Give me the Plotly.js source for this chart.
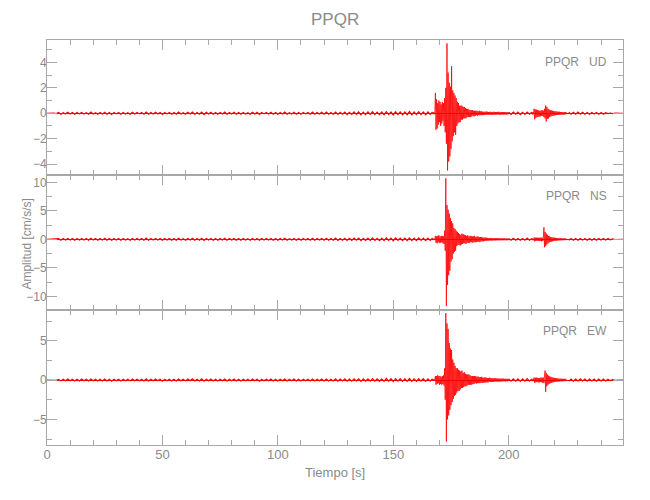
<!DOCTYPE html>
<html>
<head>
<meta charset="utf-8">
<script src="https://cdn.plot.ly/plotly-3.0.1.min.js"></script>
<style>html,body{margin:0;padding:0;background:#fff;}#chart{width:650px;height:500px;}</style>
</head>
<body>
<div id="chart"></div>
<script>
// ---- Data ----
// Each component is stored as five uniformly sampled segments (start time [s], step [s]).
const segStart = [0, 167, 200, 210, 226];
const segStep  = [1, 0.25, 1, 0.25, 1];
const components = ['UD', 'NS', 'EW'];
const stationName = 'PPQR';

// --- UD (cm/s/s) ---
const udA = [
 0, 0.01, -0.01, 0.01, -0.02, 0.06, -0.07, 0.05, -0.06, 0.08, -0.05, 0.07,
 -0.08, 0.06, -0.05, 0.07, -0.06, 0.05, -0.08, 0.09, -0.06, 0.05, -0.07, 0.06,
 -0.05, 0.08, -0.07, 0.06, -0.09, 0.07, -0.05, 0.06, -0.08, 0.07, -0.06, 0.05,
 -0.07, 0.08, -0.06, 0.07, -0.05, 0.06, -0.08, 0.1, -0.07, 0.06, -0.05, 0.08,
 -0.06, 0.07, -0.09, 0.06, -0.05, 0.07, -0.08, 0.06, -0.07, 0.09, -0.06, 0.05,
 -0.07, 0.08, -0.06, 0.1, -0.08, 0.06, -0.07, 0.09, -0.1, 0.07, -0.06, 0.08,
 -0.07, 0.06, -0.08, 0.07, -0.06, 0.09, -0.07, 0.06, -0.05, 0.08, -0.07, 0.06,
 -0.08, 0.07, -0.06, 0.05, -0.07, 0.08, -0.06, 0.07, -0.09, 0.06, -0.05, 0.07,
 -0.06, 0.08, -0.07, 0.06, -0.08, 0.07, -0.06, 0.09, -0.07, 0.05, -0.06, 0.08,
 -0.07, 0.06, -0.08, 0.07, -0.05, 0.06, -0.08, 0.09, -0.07, 0.06, -0.06, 0.08,
 -0.07, 0.09, -0.08, 0.06, -0.07, 0.1, -0.09, 0.07, -0.08, 0.09, -0.1, 0.08,
 -0.09, 0.11, -0.08, 0.1, -0.12, 0.09, -0.1, 0.11, -0.09, 0.12, -0.1, 0.09,
 -0.11, 0.1, -0.12, 0.13, -0.1, 0.11, -0.13, 0.12, -0.1, 0.11, -0.12, 0.1,
 -0.11, 0.13, -0.12, 0.1, -0.11, 0.12, -0.1, 0.11, -0.12, 0.1, -0.09, 0.11
];
const udB = [
 0.08, -0.07, 0.09, -0.08, 0.1, 1.6, -1.3, 1.1, -1.2, 0.8, -0.9, 1.0,
 -0.7, 0.9, -1.0, 0.7, -0.8, 0.9, -0.6, 0.8, -1.0, 1.2, -1.5, 2.0,
 -2.4, 5.5, -4.5, 3.2, -3.8, 2.4, -3.4, 2.1, -2.8, 3.7, -2.2, 1.8,
 -1.8, 1.6, -1.5, 1.4, -1.7, 1.2, -1.0, 0.9, -0.8, 0.8, -0.7, 0.6,
 -0.7, 0.6, -0.5, 0.6, -0.5, 0.5, -0.4, 0.5, -0.4, 0.4, -0.4, 0.35,
 -0.3, 0.35, -0.3, 0.3, -0.3, 0.25, -0.3, 0.25, -0.25, 0.25, -0.2, 0.2,
 -0.25, 0.2, -0.2, 0.2, -0.15, 0.2, -0.2, 0.15, -0.15, 0.2, -0.15, 0.15,
 -0.15, 0.15, -0.15, 0.12, -0.15, 0.12, -0.12, 0.12, -0.12, 0.14, -0.11, 0.12,
 -0.12, 0.1, -0.13, 0.11, -0.1, 0.12, -0.11, 0.1, -0.12, 0.11, -0.1, 0.12,
 -0.11, 0.1, -0.12, 0.1, -0.09, 0.11, -0.1, 0.12, -0.1, 0.09, -0.11, 0.1,
 -0.09, 0.1, -0.11, 0.09, -0.1, 0.1, -0.09, 0.08, -0.1, 0.09, -0.08, 0.09,
 -0.08
];
const udC = [0.08, -0.09, 0.1, -0.08, 0.09, -0.1, 0.08, -0.09, 0.1, -0.08, 0.09];
const udD = [
 0.08, -0.09, 0.1, -0.08, 0.35, -0.47, 0.3, -0.35, 0.28, -0.3, 0.25, -0.28,
 0.22, -0.25, 0.2, -0.24, 0.22, -0.2, 0.25, -0.22, 0.2, -0.3, 0.35, -0.4,
 0.6, -0.65, 0.5, -0.45, 0.35, -0.4, 0.3, -0.3, 0.25, -0.25, 0.22, -0.2,
 0.2, -0.2, 0.18, -0.17, 0.16, -0.15, 0.15, -0.14, 0.13, -0.14, 0.12, -0.12,
 0.12, -0.11, 0.1, -0.11, 0.1, -0.1, 0.09, -0.1, 0.09, -0.09, 0.1, -0.08,
 0.09
];
const udE = [
 0.09, -0.08, 0.07, -0.08, 0.09, -0.07, 0.08, -0.07, 0.06, -0.08, 0.07, -0.06,
 0.07, -0.08, 0.06, -0.07, 0.05, -0.03, 0.02, -0.02, 0.01, -0.01, 0.01, 0, 0
];

// --- NS (cm/s/s) ---
const nsA = [
 0, 0.02, -0.02, 0.03, -0.03, 0.12, -0.15, 0.14, -0.12, 0.16, -0.13, 0.15,
 -0.17, 0.13, -0.14, 0.16, -0.12, 0.15, -0.16, 0.18, -0.13, 0.14, -0.15, 0.13,
 -0.14, 0.17, -0.15, 0.13, -0.18, 0.15, -0.12, 0.14, -0.16, 0.15, -0.13, 0.12,
 -0.15, 0.16, -0.13, 0.15, -0.12, 0.14, -0.17, 0.2, -0.15, 0.13, -0.12, 0.16,
 -0.13, 0.15, -0.18, 0.13, -0.12, 0.15, -0.16, 0.13, -0.15, 0.18, -0.13, 0.12,
 -0.15, 0.16, -0.13, 0.2, -0.16, 0.13, -0.15, 0.18, -0.2, 0.15, -0.13, 0.16,
 -0.15, 0.13, -0.16, 0.15, -0.13, 0.18, -0.15, 0.13, -0.12, 0.16, -0.15, 0.13,
 -0.16, 0.15, -0.13, 0.12, -0.15, 0.16, -0.13, 0.15, -0.18, 0.13, -0.12, 0.15,
 -0.13, 0.16, -0.15, 0.13, -0.16, 0.15, -0.13, 0.18, -0.15, 0.12, -0.13, 0.16,
 -0.15, 0.13, -0.16, 0.15, -0.12, 0.13, -0.16, 0.18, -0.15, 0.13, -0.13, 0.16,
 -0.15, 0.18, -0.16, 0.13, -0.15, 0.2, -0.18, 0.15, -0.16, 0.18, -0.2, 0.16,
 -0.18, 0.22, -0.16, 0.2, -0.23, 0.18, -0.2, 0.22, -0.18, 0.24, -0.2, 0.18,
 -0.22, 0.2, -0.24, 0.25, -0.2, 0.22, -0.25, 0.24, -0.2, 0.22, -0.24, 0.2,
 -0.22, 0.25, -0.24, 0.2, -0.22, 0.24, -0.2, 0.22, -0.24, 0.2, -0.18, 0.22
];
const nsB = [
 0.15, -0.13, 0.16, -0.14, 0.15, 0.6, -0.6, 0.5, -0.7, 0.6, -0.5, 0.7,
 -0.6, 0.5, -0.6, 0.6, -0.5, 0.6, -0.7, 0.5, -0.8, 1.5, -2.0, 10.7,
 -11.7, 6.0, -8.0, 5.2, -6.3, 4.5, -5.5, 3.7, -3.9, 3.2, -3.5, 2.8,
 -2.5, 2.0, -2.2, 1.8, -2.0, 1.5, -1.2, 1.3, -1.0, 1.1, -1.0, 0.9,
 -1.1, 0.8, -0.9, 1.0, -0.8, 0.9, -0.7, 0.8, -0.7, 0.7, -0.8, 0.6,
 -0.6, 0.7, -0.6, 0.5, -0.6, 0.6, -0.5, 0.6, -0.5, 0.5, -0.6, 0.5,
 -0.5, 0.6, -0.5, 0.4, -0.5, 0.5, -0.4, 0.5, -0.4, 0.4, -0.5, 0.4,
 -0.35, 0.4, -0.35, 0.3, -0.35, 0.3, -0.3, 0.3, -0.25, 0.3, -0.25, 0.25,
 -0.25, 0.2, -0.25, 0.2, -0.2, 0.25, -0.2, 0.2, -0.22, 0.2, -0.18, 0.2,
 -0.2, 0.18, -0.2, 0.18, -0.17, 0.2, -0.18, 0.2, -0.17, 0.16, -0.18, 0.17,
 -0.16, 0.18, -0.17, 0.15, -0.17, 0.16, -0.15, 0.16, -0.17, 0.15, -0.16, 0.15,
 -0.15
];
const nsC = [0.15, -0.16, 0.18, -0.15, 0.16, -0.18, 0.15, -0.17, 0.2, -0.16, 0.15];
const nsD = [
 0.16, -0.15, 0.17, -0.16, 0.3, -0.35, 0.3, -0.3, 0.28, -0.25, 0.3, -0.28,
 0.25, -0.3, 0.28, -0.25, 0.3, -0.35, 0.3, -0.28, 0.3, 2.1, -1.4, 1.3,
 -1.2, 1.0, -0.9, 0.8, -0.7, 0.6, -0.55, 0.5, -0.45, 0.4, -0.4, 0.35,
 -0.35, 0.3, -0.3, 0.3, -0.28, 0.25, -0.25, 0.22, -0.22, 0.2, -0.2, 0.2,
 -0.18, 0.2, -0.18, 0.17, -0.18, 0.16, -0.17, 0.16, -0.15, 0.16, -0.15, 0.16,
 -0.15
];
const nsE = [
 -0.15, 0.16, -0.15, 0.14, -0.16, 0.15, -0.14, 0.16, -0.15, 0.13, -0.15, 0.14,
 -0.16, 0.15, -0.13, 0.14, -0.12, 0.14, -0.1, 0.06, -0.03, 0.02, -0.01, 0, 0
];

// --- EW (cm/s/s) ---
const ewA = [
 0, 0.01, -0.02, 0.02, -0.03, 0.09, -0.11, 0.1, -0.09, 0.12, -0.1, 0.11,
 -0.13, 0.1, -0.11, 0.12, -0.09, 0.11, -0.12, 0.14, -0.1, 0.11, -0.12, 0.1,
 -0.11, 0.13, -0.12, 0.1, -0.14, 0.11, -0.09, 0.11, -0.12, 0.11, -0.1, 0.09,
 -0.11, 0.12, -0.1, 0.11, -0.09, 0.11, -0.13, 0.15, -0.11, 0.1, -0.09, 0.12,
 -0.1, 0.11, -0.14, 0.1, -0.09, 0.11, -0.12, 0.1, -0.11, 0.14, -0.1, 0.09,
 -0.11, 0.12, -0.1, 0.15, -0.12, 0.1, -0.11, 0.14, -0.15, 0.11, -0.1, 0.12,
 -0.11, 0.1, -0.12, 0.11, -0.1, 0.14, -0.11, 0.1, -0.09, 0.12, -0.11, 0.1,
 -0.12, 0.11, -0.1, 0.09, -0.11, 0.12, -0.1, 0.11, -0.14, 0.1, -0.09, 0.11,
 -0.1, 0.12, -0.11, 0.1, -0.12, 0.11, -0.1, 0.14, -0.11, 0.09, -0.1, 0.12,
 -0.11, 0.1, -0.12, 0.11, -0.09, 0.1, -0.12, 0.14, -0.11, 0.1, -0.1, 0.12,
 -0.11, 0.14, -0.12, 0.1, -0.11, 0.15, -0.14, 0.11, -0.12, 0.14, -0.15, 0.12,
 -0.14, 0.16, -0.12, 0.15, -0.17, 0.14, -0.15, 0.16, -0.14, 0.18, -0.15, 0.14,
 -0.16, 0.15, -0.18, 0.19, -0.15, 0.16, -0.19, 0.18, -0.15, 0.16, -0.18, 0.15,
 -0.16, 0.19, -0.18, 0.15, -0.16, 0.18, -0.15, 0.16, -0.18, 0.15, -0.14, 0.16
];
const ewB = [
 0.12, -0.11, 0.13, -0.12, 0.12, 0.5, -0.6, 0.5, -0.5, 0.6, -0.4, 0.5,
 -0.6, 0.5, -0.5, 0.4, -0.6, 0.5, -0.5, 0.6, -0.7, 1.5, -2.5, 8.5,
 -7.8, 7.2, -5.0, 6.5, -4.5, 4.7, -3.8, 4.0, -3.2, 3.8, -2.8, 2.6,
 -2.4, 2.2, -2.0, 1.8, -1.9, 1.5, -1.6, 1.5, -1.4, 1.3, -1.4, 1.2,
 -1.2, 1.1, -1.0, 1.2, -1.0, 0.9, -0.9, 1.0, -0.8, 0.8, -0.8, 0.7,
 -0.7, 0.7, -0.6, 0.7, -0.6, 0.6, -0.6, 0.5, -0.6, 0.5, -0.5, 0.5,
 -0.5, 0.5, -0.4, 0.5, -0.45, 0.4, -0.4, 0.45, -0.4, 0.35, -0.4, 0.35,
 -0.35, 0.4, -0.35, 0.3, -0.35, 0.3, -0.3, 0.35, -0.3, 0.3, -0.3, 0.25,
 -0.3, 0.25, -0.25, 0.3, -0.25, 0.25, -0.22, 0.25, -0.25, 0.2, -0.22, 0.22,
 -0.2, 0.22, -0.2, 0.2, -0.2, 0.18, -0.2, 0.2, -0.18, 0.18, -0.2, 0.17,
 -0.17, 0.18, -0.16, 0.17, -0.16, 0.15, -0.17, 0.16, -0.15, 0.15, -0.16, 0.15,
 -0.15
];
const ewC = [0.14, -0.15, 0.16, -0.14, 0.15, -0.17, 0.14, -0.15, 0.18, -0.15, 0.14];
const ewD = [
 0.14, -0.15, 0.16, -0.14, 0.3, -0.35, 0.3, -0.28, 0.3, -0.25, 0.28, -0.3,
 0.25, -0.3, 0.28, -0.25, 0.3, -0.28, 0.3, -0.35, 0.3, -0.4, 0.5, 1.2,
 -1.5, 0.9, -0.8, 0.7, -0.6, 0.55, -0.5, 0.45, -0.4, 0.4, -0.35, 0.35,
 -0.3, 0.3, -0.28, 0.27, -0.25, 0.25, -0.22, 0.22, -0.2, 0.2, -0.2, 0.18,
 -0.18, 0.17, -0.16, 0.17, -0.16, 0.15, -0.16, 0.15, -0.14, 0.15, -0.14, 0.15,
 -0.14
];
const ewE = [
 -0.14, 0.13, -0.14, 0.12, -0.13, 0.14, -0.12, 0.13, -0.14, 0.12, -0.13, 0.12,
 -0.14, 0.12, -0.11, 0.13, -0.12, 0.1, -0.08, 0.05, -0.03, 0.02, -0.01, 0, 0
];

const xTickVals = [0, 50, 100, 150, 200];
const title = 'PPQR';
const xTitle = 'Tiempo [s]';
const yTitle = 'Amplitud [cm/s/s]';

// ---- Build ----
const series = {UD: [udA, udB, udC, udD, udE], NS: [nsA, nsB, nsC, nsD, nsE], EW: [ewA, ewB, ewC, ewD, ewE]};
// UD top (x3/y3), NS middle (x2/y2), EW bottom (x/y)
const axisOf = {UD: ['x3', 'y3'], NS: ['x2', 'y2'], EW: ['x', 'y']};
const segWidth = [1.2, 0.8, 1.2, 0.8, 1.2];

const traces = [];
components.forEach(c => {
  series[c].forEach((seg, s) => {
    traces.push({
      type: 'scatter', mode: 'lines',
      x0: segStart[s], dx: segStep[s], y: seg,
      xaxis: axisOf[c][0], yaxis: axisOf[c][1],
      line: {color: '#ff0000', width: segWidth[s]},
      hoverinfo: 'skip', showlegend: false
    });
  });
});

const FONT = '"Liberation Sans", sans-serif';
const GREY = '#8a8a8a';
const LINE = '#a8a8a8';

function xax(anchor, labels) {
  return {
    anchor: anchor, domain: [0, 1], range: [0, 249.5],
    tickmode: 'array', tickvals: xTickVals, ticktext: xTickVals.map(String),
    showticklabels: labels,
    ticks: 'inside', ticklen: 10, tickwidth: 1, tickcolor: LINE,
    minor: {dtick: 10, tick0: 0, ticks: 'inside', ticklen: 5, tickcolor: LINE, showgrid: false},
    showline: true, linecolor: LINE, linewidth: 1, mirror: 'ticks',
    showgrid: false, zeroline: false,
    ticklabelstandoff: -3,
    tickfont: {family: FONT, size: 13, color: GREY}
  };
}
function yax(domain, range, dtick, minor) {
  return {
    anchor: 'x', domain: domain, range: range,
    dtick: dtick, tick0: 0,
    ticks: 'inside', ticklen: 10, tickwidth: 1, tickcolor: LINE,
    minor: {dtick: minor, tick0: 0, ticks: 'inside', ticklen: 5, tickcolor: LINE, showgrid: false},
    showline: true, linecolor: LINE, linewidth: 1, mirror: 'ticks',
    showgrid: false, zeroline: true, zerolinecolor: '#ee0000', zerolinewidth: 1,
    ticklabelstandoff: -3,
    tickfont: {family: FONT, size: 12, color: GREY}
  };
}

const yEW = yax([0, 1/3], [-8.26, 8.9], 5, 2.5);
const yNS = yax([1/3, 2/3], [-12.4, 11.28], 5, 2.5); yNS.anchor = 'x2';
const yUD = yax([2/3, 1], [-4.86, 5.77], 2, 1); yUD.anchor = 'x3';

const labelY = {UD: 0.9457, NS: 0.6148, EW: 0.2815};
const annotations = components.map(c => ({
  text: stationName + '\u00a0\u00a0\u00a0' + c,
  xref: 'paper', yref: 'paper', x: 0.9757, y: labelY[c],
  xanchor: 'right', yanchor: 'middle', showarrow: false,
  font: {family: FONT, size: 12, color: GREY}
}));
annotations.push({
  text: yTitle, textangle: -90, xref: 'paper', yref: 'paper',
  x: -0.035, y: 0.497, xanchor: 'center', yanchor: 'middle', showarrow: false,
  font: {family: FONT, size: 12, color: GREY}
});
annotations.push({
  text: xTitle, xref: 'paper', yref: 'paper',
  x: 0.5, y: -0.0667, xanchor: 'center', yanchor: 'middle', showarrow: false,
  font: {family: FONT, size: 13, color: GREY}
});
annotations.push({
  text: title, xref: 'paper', yref: 'paper',
  x: 0.5, y: 1.05, xanchor: 'center', yanchor: 'middle', showarrow: false,
  font: {family: FONT, size: 17, color: GREY}
});

const layout = {
  width: 650, height: 500,
  margin: {l: 47, r: 27, t: 40, b: 55, pad: 0},
  paper_bgcolor: '#ffffff', plot_bgcolor: '#ffffff',
  showlegend: false,
  xaxis: xax('y', true),
  xaxis2: Object.assign(xax('y2', false), {matches: 'x'}),
  xaxis3: Object.assign(xax('y3', false), {matches: 'x'}),
  yaxis: yEW, yaxis2: yNS, yaxis3: yUD,
  annotations: annotations
};

Plotly.newPlot('chart', traces, layout, {staticPlot: true, displayModeBar: false});
</script>
</body>
</html>
